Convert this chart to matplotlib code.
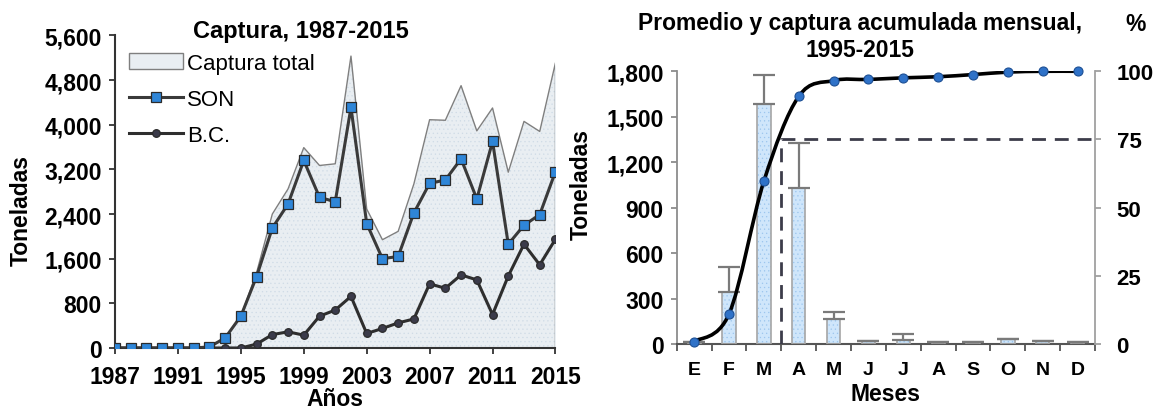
import numpy as np
import matplotlib.pyplot as plt
from matplotlib.path import Path
from matplotlib.patches import PathPatch
from matplotlib.ticker import FuncFormatter

plt.rcParams['font.family'] = ['Liberation Sans', 'DejaVu Sans']
plt.rcParams['hatch.linewidth'] = 0.4

# Catch per year (tonnes)
years = list(range(1987, 2016))
total = [0, 0, 0, 0, 0, 0, 10, 180, 570, 1350, 2400, 2850, 3590, 3270, 3300, 5230,
         2490, 1940, 2090, 2940, 4090, 4080, 4700, 3890, 4300, 3150, 4060, 3880, 5110]
son = [0, 0, 0, 0, 0, 0, 20, 180, 570, 1280, 2150, 2580, 3360, 2700, 2620, 4310,
       2230, 1600, 1640, 2420, 2950, 3010, 3390, 2670, 3700, 1860, 2200, 2390, 3160]
bc = [0, 0, 0, 0, 0, 0, 0, 0, 0, 70, 240, 290, 230, 570, 680, 925,
      260, 350, 450, 520, 1150, 1070, 1310, 1220, 600, 1290, 1860, 1490, 1950]

# Monthly average, 1995-2015
months = ['E', 'F', 'M', 'A', 'M', 'J', 'J', 'A', 'S', 'O', 'N', 'D']
mean_catch = [10, 345, 1582, 1030, 168, 20, 28, 10, 10, 30, 18, 10]
err_catch = [0, 165, 195, 295, 40, 3, 35, 0, 0, 3, 3, 0]
cum_pct = [0.9, 11.0, 59.7, 90.8, 96.6, 97.0, 97.6, 98.0, 98.8, 99.7, 100, 100]
threshold = 75

fig = plt.figure(figsize=(11.56, 4.14), dpi=100)
comma = FuncFormatter(lambda v, p: f'{int(v):,}')

# ---------------- left panel ----------------
ax1 = fig.add_axes([0.0995, 0.157, 0.381, 0.755])
ax1.fill_between(years, total, color='#e9eef2', lw=0, zorder=1)
ax1.fill_between(years, total, facecolor='none', edgecolor='#cfdbe6', hatch='....',
                 lw=0, zorder=1)
ax1.fill_between(years, total, facecolor='none', edgecolor='#7f7f7f', lw=1.0, zorder=2)
ax1.fill_between([], [], facecolor='#e9eef2', edgecolor='#7f7f7f', lw=1.0,
                 label='Captura total')
ax1.plot(years, son, color='#3a3a3a', lw=2.2, marker='s', ms=6.5, mfc='#2f86d8',
         mec='#2b2b2b', mew=0.9, zorder=4, label='SON')
ax1.plot(years, bc, color='#2e2e2e', lw=2.2, marker='o', ms=5.5, mfc='#3b3b4a',
         mec='#2b2b2b', mew=0.9, zorder=3, label='B.C.')

ax1.set_xlim(1987, 2015)
ax1.set_ylim(0, 5600)
ax1.set_xticks(range(1987, 2016, 4))
ax1.set_yticks(range(0, 5601, 800))
ax1.yaxis.set_major_formatter(comma)
for s in ['top', 'right']:
    ax1.spines[s].set_visible(False)
for s in ['left', 'bottom']:
    ax1.spines[s].set_color('#333333')
    ax1.spines[s].set_linewidth(1.5)
ax1.tick_params(axis='both', length=4.5, width=1.3, color='#333333', labelsize=16.5)
ax1.tick_params(axis='x', pad=8)
ax1.tick_params(axis='y', pad=5)
for lab in ax1.get_xticklabels() + ax1.get_yticklabels():
    lab.set_fontweight('bold')
ax1.set_xlabel('Años', fontsize=16.5, fontweight='bold')
ax1.set_ylabel('Toneladas', fontsize=16.5, fontweight='bold')
ax1.xaxis.set_label_coords(0.5, -0.125)
ax1.yaxis.set_label_coords(-0.186, 0.444)
leg = ax1.legend(loc='upper left', bbox_to_anchor=(0.0, 0.99), frameon=False,
                 fontsize=16, handlelength=2.4, handletextpad=0.2, labelspacing=0.68,
                 borderaxespad=0.25)
fig.text(0.26, 1 - 38 / 414, 'Captura, 1987-2015', ha='center', va='baseline',
         fontsize=17, fontweight='bold')

# ---------------- right panel ----------------
ax2 = fig.add_axes([0.5854, 0.1667, 0.3619, 0.6587])
x = np.arange(len(months))
ax2.bar(x, mean_catch, width=0.38, color='#cfe6fb', lw=0, zorder=2)
ax2.bar(x, mean_catch, width=0.38, facecolor='none', edgecolor='#9cc6ee', hatch='....',
        lw=0, zorder=2)
ax2.bar(x, mean_catch, width=0.38, facecolor='none', edgecolor='#a6a6a6', lw=1.2,
        zorder=3)
ax2.errorbar(x, mean_catch, yerr=[np.zeros(len(err_catch)), err_catch], fmt='none',
             ecolor='#7a7a7a', elinewidth=1.6, capsize=8, capthick=1.6, zorder=3)
ax2.set_xlim(-0.5, 11.5)
ax2.set_ylim(0, 1800)
ax2.set_yticks(range(0, 1801, 300))
ax2.yaxis.set_major_formatter(comma)
ax2.set_xticks(x)
ax2.set_xticklabels(months)
ax2.set_xticks(np.arange(-0.5, 12, 1), minor=True)
ax2.tick_params(axis='x', which='major', length=0, labelsize=14, pad=12)
ax2.tick_params(axis='x', which='minor', length=5, width=1.3, color='#555555')
ax2.tick_params(axis='y', length=4.5, width=1.3, color='#8c8c8c', labelsize=16.5, pad=5)
for lab in ax2.get_xticklabels() + ax2.get_yticklabels():
    lab.set_fontweight('bold')
for s in ['top', 'right']:
    ax2.spines[s].set_visible(False)
ax2.spines['left'].set_color('#8c8c8c')
ax2.spines['left'].set_linewidth(1.3)
ax2.spines['bottom'].set_color('#555555')
ax2.spines['bottom'].set_linewidth(1.5)
ax2.set_xlabel('Meses', fontsize=16.5, fontweight='bold')
ax2.set_ylabel('Toneladas', fontsize=16.5, fontweight='bold')
ax2.xaxis.set_label_coords(0.5, -0.139)
ax2.yaxis.set_label_coords(-0.2, 0.59)

ax3 = ax2.twinx()
ax3.set_ylim(0, 100)
ax3.set_yticks(range(0, 101, 25))
for s in ['top', 'left', 'bottom']:
    ax3.spines[s].set_visible(False)
ax3.spines['right'].set_color('#a0a0a0')
ax3.spines['right'].set_linewidth(1.3)
ax3.tick_params(axis='y', length=4.5, width=1.3, color='#a0a0a0', labelsize=16, pad=11)
for lab in ax3.get_yticklabels():
    lab.set_fontweight('bold')

# 75 % reference lines
ax3.plot([2.5, 2.5, 11.5], [0, threshold, threshold], color='#3c3c4a', lw=2.0,
         ls=(0, (5, 3.2)), zorder=3)

# smoothed cumulative curve (cubic Bezier through points, Excel-like smoothing)
pts = np.column_stack([x, cum_pct]).astype(float)
verts = [tuple(pts[0])]
codes = [Path.MOVETO]
n = len(pts)
for i in range(n - 1):
    p0 = pts[i - 1] if i > 0 else pts[i]
    p1, p2 = pts[i], pts[i + 1]
    p3 = pts[i + 2] if i + 2 < n else pts[i + 1]
    c1 = p1 + (p2 - p0) / 6.0
    c2 = p2 - (p3 - p1) / 6.0
    verts += [tuple(c1), tuple(c2), tuple(p2)]
    codes += [Path.CURVE4] * 3
ax3.add_patch(PathPatch(Path(verts, codes), facecolor='none', edgecolor='black',
                        lw=2.6, zorder=4))
ax3.plot(x, cum_pct, ls='none', marker='o', ms=6.5, mfc='#2f72c8', mec='#1d4f94',
         mew=0.8, zorder=5, clip_on=False)

fig.text(0.744, 1 - 30 / 414, 'Promedio y captura acumulada mensual,', ha='center',
         va='baseline', fontsize=16.5, fontweight='bold')
fig.text(0.744, 1 - 57 / 414, '1995-2015', ha='center', va='baseline', fontsize=16.5,
         fontweight='bold')
fig.text(0.982, 1 - 31 / 414, '%', ha='center', va='baseline', fontsize=16.5,
         fontweight='bold')

fig.savefig('out.png', dpi=100)
